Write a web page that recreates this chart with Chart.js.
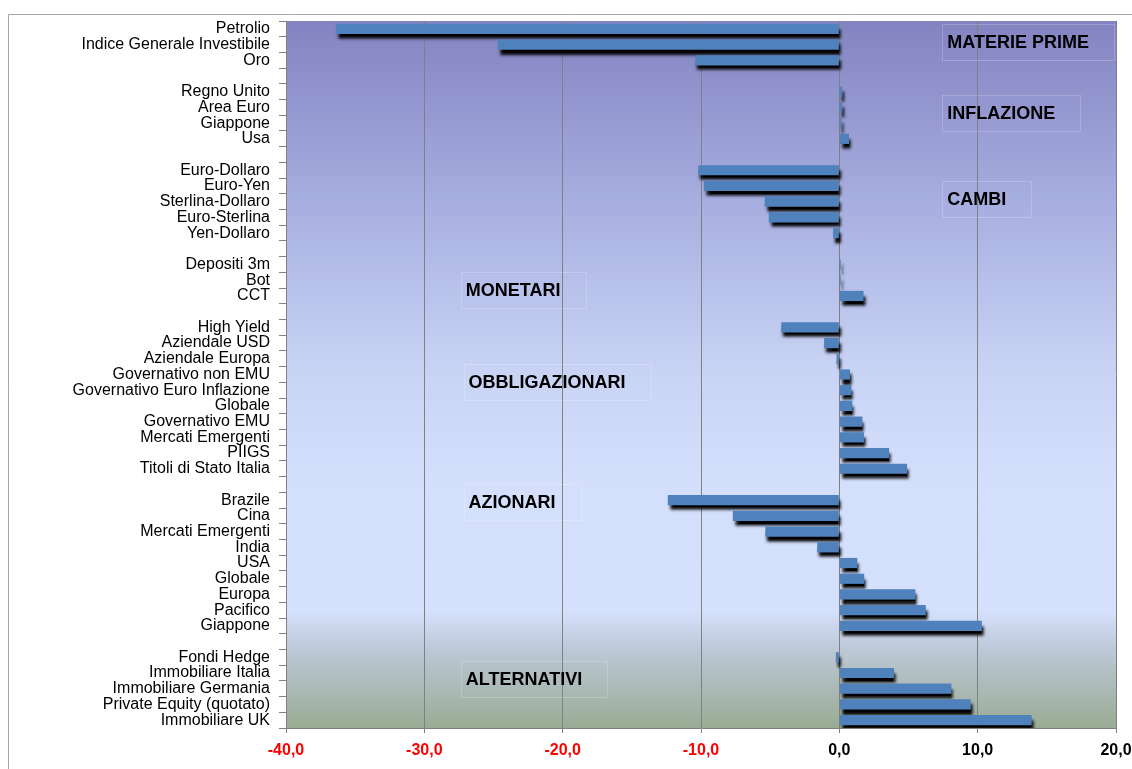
<!DOCTYPE html>
<html>
<head>
<meta charset="utf-8">
<script src="https://cdn.jsdelivr.net/npm/chart.js@4"></script>
<style>
  html, body { margin: 0; padding: 0; background: #fff; }
  #wrap { width: 1132px; height: 769px; position: relative; }
</style>
</head>
<body>
<div id="wrap"><canvas id="grafico"></canvas></div>
<script>
// categorie (righe vuote = separatori tra gruppi)
const categorie = [
  'Petrolio', 'Indice Generale Investibile', 'Oro', '',
  'Regno Unito', 'Area Euro', 'Giappone', 'Usa', '',
  'Euro-Dollaro', 'Euro-Yen', 'Sterlina-Dollaro', 'Euro-Sterlina', 'Yen-Dollaro', '',
  'Depositi 3m', 'Bot', 'CCT', '',
  'High Yield', 'Aziendale USD', 'Aziendale Europa', 'Governativo non EMU',
  'Governativo Euro Inflazione', 'Globale', 'Governativo EMU', 'Mercati Emergenti',
  'PIIGS', 'Titoli di Stato Italia', '',
  'Brazile', 'Cina', 'Mercati Emergenti', 'India', 'USA', 'Globale', 'Europa',
  'Pacifico', 'Giappone', '',
  'Fondi Hedge', 'Immobiliare Italia', 'Immobiliare Germania',
  'Private Equity (quotato)', 'Immobiliare UK'
];

const rendimenti = [
  -36.4, -24.7, -10.4, null,
  0.2, 0.2, 0.15, 0.7, null,
  -10.2, -9.8, -5.4, -5.1, -0.45, null,
  0.1, 0.1, 1.75, null,
  -4.2, -1.1, -0.2, 0.77, 0.87, 0.94, 1.67, 1.78, 3.6, 4.9, null,
  -12.4, -7.7, -5.35, -1.6, 1.3, 1.8, 5.5, 6.25, 10.3, null,
  -0.25, 3.95, 8.1, 9.5, 13.9
];

const gruppi = ['MATERIE PRIME', 'INFLAZIONE', 'CAMBI', 'MONETARI', 'OBBLIGAZIONARI', 'AZIONARI', 'ALTERNATIVI'];

const xMin = -40, xMax = 20, xStep = 10;

// sfondo a gradiente e cornice esterna
const sfondo = {
  id: 'sfondo',
  beforeDraw(chart) {
    const { ctx, chartArea: a } = chart;
    const g = ctx.createLinearGradient(0, a.top, 0, a.bottom);
    g.addColorStop(0, '#8383c1');
    g.addColorStop(0.25, '#a6addf');
    g.addColorStop(0.5, '#c9d4f5');
    g.addColorStop(0.65, '#d4dffc');
    g.addColorStop(0.835, '#d5e0fc');
    g.addColorStop(0.89, '#bcc8d6');
    g.addColorStop(1, '#99ab93');
    ctx.save();
    ctx.fillStyle = g;
    ctx.fillRect(a.left, a.top, a.right - a.left, a.bottom - a.top);
    ctx.strokeStyle = '#a6a6a6';
    ctx.lineWidth = 1;
    ctx.beginPath();
    ctx.moveTo(8.5, chart.height);
    ctx.lineTo(8.5, 14.5);
    ctx.lineTo(chart.width, 14.5);
    ctx.stroke();
    ctx.restore();
  }
};

// ombra nera sotto le barre
const ombra = {
  id: 'ombra',
  beforeDatasetsDraw(chart) {
    const ctx = chart.ctx;
    ctx.save();
    ctx.shadowColor = 'rgba(0,0,0,1)';
    ctx.shadowOffsetX = 2;
    ctx.shadowOffsetY = 5;
    ctx.shadowBlur = 3;
  },
  afterDatasetsDraw(chart) {
    chart.ctx.restore();
  }
};

// etichette dei gruppi
const etichette = {
  id: 'etichette',
  afterDraw(chart) {
    const { ctx, scales: { x, y } } = chart;
    const ancore = [
      [7.8, 0.85], [7.8, 5.35], [7.8, 10.8],
      [-27, 16.6], [-26.8, 22.5], [-26.8, 30.1], [-27, 41.4]
    ];
    ctx.save();
    ctx.font = 'bold 18px "Liberation Sans", Arial, sans-serif';
    ctx.textBaseline = 'middle';
    ctx.textAlign = 'left';
    gruppi.forEach((t, i) => {
      const px = x.getPixelForValue(ancore[i][0]);
      const py = y.getPixelForValue(ancore[i][1]);
      const w = ctx.measureText(t).width;
      ctx.strokeStyle = 'rgba(255,255,255,0.2)';
      ctx.lineWidth = 1;
      ctx.strokeRect(Math.round(px - 5) + 0.5, Math.round(py - 18) + 0.5, Math.round(w + 30), 36);
      ctx.fillStyle = '#000';
      ctx.fillText(t, px, py + 1);
    });
    ctx.restore();
  }
};

const ctx = document.getElementById('grafico').getContext('2d');
const grafico = new Chart(ctx, {
  type: 'bar',
  data: {
    labels: categorie,
    datasets: [{
      data: rendimenti,
      backgroundColor: '#4f81bd',
      borderWidth: 0,
      barPercentage: 0.65,
      categoryPercentage: 1.0
    }]
  },
  options: {
    indexAxis: 'y',
    responsive: true,
    maintainAspectRatio: false,
    animation: false,
    layout: { padding: { top: 21, right: 16, left: 0, bottom: 0 } },
    plugins: {
      legend: { display: false },
      tooltip: { enabled: false }
    },
    scales: {
      x: {
        min: xMin,
        max: xMax,
        afterFit(scale) {
          scale.height = 41;
          scale.paddingLeft = 0;
          scale.paddingRight = 0;
        },
        grid: { color: '#808080', tickLength: 5, drawTicks: true },
        border: { color: '#808080' },
        ticks: {
          stepSize: xStep,
          padding: 8,
          maxRotation: 0,
          font: { family: '"Liberation Sans", Arial, sans-serif', size: 16, weight: 'bold' },
          color: (c) => c.tick && c.tick.value < 0 ? '#ff0000' : '#000000',
          callback: (v) => v.toFixed(1).replace('.', ',')
        }
      },
      y: {
        afterFit(scale) {
          scale.width = 286;
          scale.paddingTop = 0;
          scale.paddingBottom = 0;
        },
        grid: { drawOnChartArea: false, drawTicks: true, tickLength: 7, color: '#808080', offset: true },
        border: { color: '#808080' },
        ticks: {
          autoSkip: false,
          padding: 9,
          font: { family: '"Liberation Sans", Arial, sans-serif', size: 16 },
          color: '#000'
        }
      }
    }
  },
  plugins: [sfondo, ombra, etichette]
});
</script>
</body>
</html>
